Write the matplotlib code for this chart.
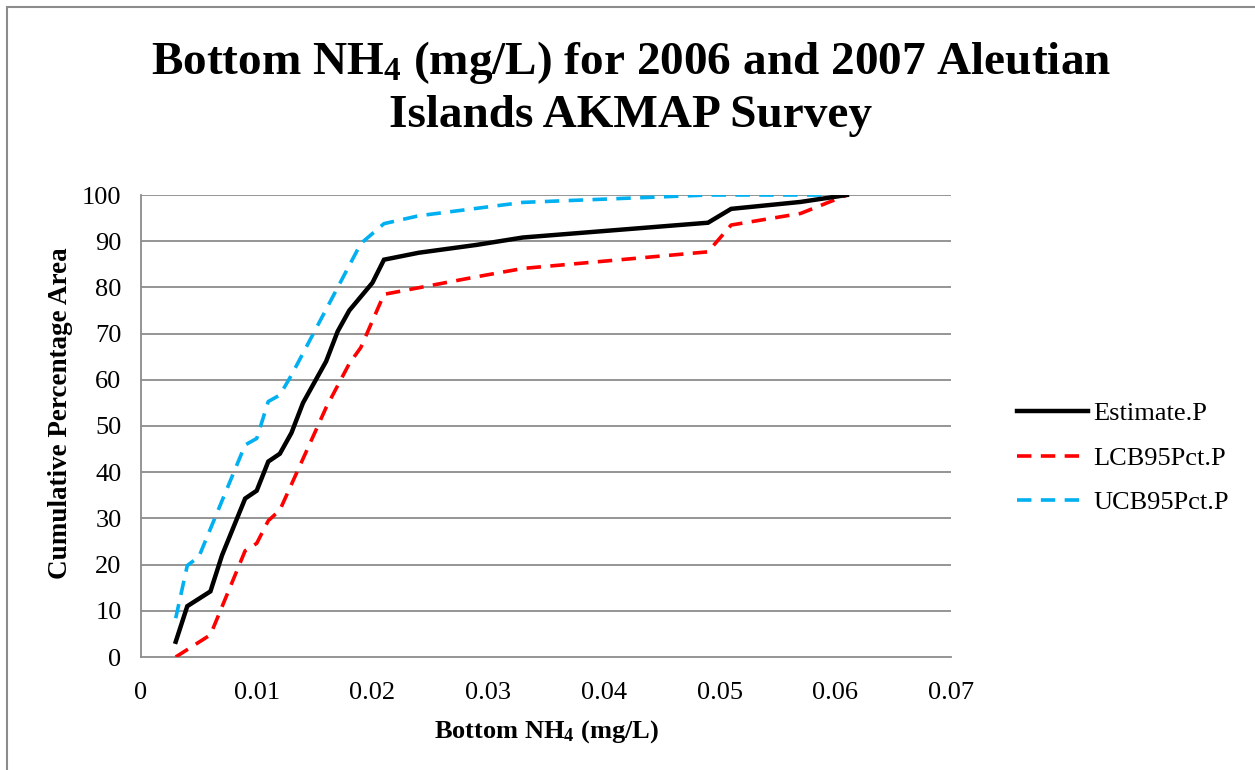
import matplotlib
matplotlib.use("Agg")
import matplotlib.pyplot as plt
from matplotlib.patches import Rectangle

plt.rcParams['font.family'] = ['Liberation Serif', 'DejaVu Serif']
plt.rcParams['mathtext.default'] = 'regular'

# Data
est_x = [0.003, 0.004, 0.006, 0.007, 0.009, 0.010, 0.011, 0.012, 0.013, 0.014,
         0.016, 0.017, 0.018, 0.020, 0.021, 0.024, 0.029, 0.033, 0.049, 0.051,
         0.057, 0.061]
est_y = [3.3, 11.0, 14.2, 22.0, 34.3, 36.0, 42.3, 44.0, 48.5, 55.0,
         64.0, 70.5, 75.0, 81.0, 86.0, 87.5, 89.2, 90.8, 94.0, 97.0,
         98.5, 100.0]

lcb_x = [0.003, 0.006, 0.009, 0.010, 0.011, 0.012, 0.016, 0.018, 0.019, 0.021,
         0.029, 0.033, 0.049, 0.051, 0.057, 0.061]
lcb_y = [0.0, 4.8, 23.0, 24.6, 29.5, 31.8, 54.0, 63.5, 67.0, 78.5,
         82.3, 84.1, 87.7, 93.5, 96.0, 100.0]

ucb_x = [0.003, 0.004, 0.005, 0.009, 0.010, 0.011, 0.012, 0.013, 0.017, 0.019,
         0.021, 0.024, 0.033, 0.049, 0.061]
ucb_y = [8.4, 19.8, 21.7, 45.9, 47.3, 55.3, 56.7, 61.0, 80.0, 89.5,
         93.8, 95.5, 98.4, 100.0, 100.0]

series_names = ['Estimate.P', 'LCB95Pct.P', 'UCB95Pct.P']
x_ticks = [0, 0.01, 0.02, 0.03, 0.04, 0.05, 0.06, 0.07]
x_tick_labels = ['0', '0.01', '0.02', '0.03', '0.04', '0.05', '0.06', '0.07']
y_ticks = list(range(0, 101, 10))

W, H = 1255, 770
fig = plt.figure(figsize=(W / 100, H / 100), dpi=100)
fig.patch.set_facecolor('white')

# chart border
fig.patches.append(Rectangle((7 / W, -0.05), 1.1, 1 - 7 / H + 0.05,
                             transform=fig.transFigure, fill=False,
                             edgecolor='#8c8c8c', linewidth=1.5))

ax = fig.add_axes([141 / W, 1 - 657 / H, (951 - 141) / W, (657 - 195) / H])
ax.set_xlim(0, 0.07)
ax.set_ylim(0, 100)

grid_c = '#8c8c8c'
for yv in y_ticks[1:]:
    ax.axhline(yv, color=grid_c, linewidth=1.3, zorder=1)

ax.plot(est_x, est_y, color='black', linewidth=3.2, label=series_names[0],
        zorder=4, solid_joinstyle='miter')
ax.plot(lcb_x, lcb_y, color='#FF0000', linewidth=2.6, dashes=(4, 2.6),
        label=series_names[1], zorder=3)
ax.plot(ucb_x, ucb_y, color='#00B0F0', linewidth=2.6, dashes=(4, 2.6),
        label=series_names[2], zorder=3)

for s in ['top', 'right']:
    ax.spines[s].set_visible(False)
for s in ['left', 'bottom']:
    ax.spines[s].set_color(grid_c)
    ax.spines[s].set_linewidth(1.3)

ax.set_xticks(x_ticks)
ax.set_xticklabels(x_tick_labels)
ax.set_yticks(y_ticks)
ax.tick_params(axis='both', length=0, labelsize=19)
ax.tick_params(axis='x', pad=18)
ax.tick_params(axis='y', pad=14)

ax.set_xlabel('Bottom NH$_4$ (mg/L)', fontsize=19, fontweight='bold', labelpad=10)
ax.set_ylabel('Cumulative Percentage Area', fontsize=19.5, fontweight='bold')
ax.yaxis.set_label_coords(-0.084, 0.528)

fig.text(631 / W, 1 - 63 / H, 'Bottom NH$_4$ (mg/L) for 2006 and 2007 Aleutian',
         ha='center', va='center', fontsize=34, fontweight='bold')
fig.text(631 / W, 1 - 116 / H, 'Islands AKMAP Survey',
         ha='center', va='center', fontsize=34, fontweight='bold')

leg = ax.legend(loc='center left', bbox_to_anchor=(993 / W, 1 - 458 / H),
                bbox_transform=fig.transFigure, frameon=False, fontsize=19,
                handlelength=2.7, handletextpad=0.2, labelspacing=0.8)

fig.savefig('out.png', dpi=100)
